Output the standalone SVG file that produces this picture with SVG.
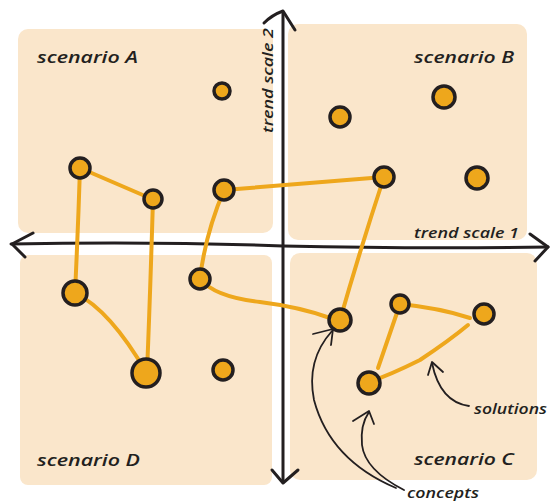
<svg xmlns="http://www.w3.org/2000/svg" width="553" height="501" viewBox="0 0 553 501">
<style>
.quad{fill:#FAE6CB;stroke:none}
.node{fill:#EEA71C;stroke:#231F20;stroke-width:3.5}
.link{fill:none;stroke:#EEA71C;stroke-width:4;stroke-linecap:round}
.axis{fill:none;stroke:#231F20;stroke-width:3;stroke-linecap:round;stroke-linejoin:round}
.ann{fill:none;stroke:#231F20;stroke-width:1.8;stroke-linecap:round;stroke-linejoin:round}
.lbl{font-family:"Open Sans","Liberation Sans",sans-serif;font-style:italic;font-weight:600;font-size:17px;fill:#231F20}
.small{font-size:15px}
</style>
<g id="quadrants">
<rect id="scenarioA-bg" class="quad" x="18" y="29" width="255" height="204" rx="10"/>
<rect id="scenarioB-bg" class="quad" x="288" y="24" width="239" height="216" rx="10"/>
<rect id="scenarioD-bg" class="quad" x="20" y="255" width="252" height="230" rx="8"/>
<rect id="scenarioC-bg" class="quad" x="290" y="253" width="247" height="227" rx="10"/>
</g>
<g id="axes">
<path class="axis" d="M283 12 L283 482"/>
<path class="axis" d="M264 23 Q272 15 283 11 L295 30"/>
<path class="axis" d="M272 470 L283 483 L298 470"/>
<path class="axis" d="M11 244 Q150 241 283 246 Q420 249 548 247"/>
<path class="axis" d="M33 233 L12 244 L25 257"/>
<path class="axis" d="M530 234 L548 247 L535 261"/>
</g>
<g id="connectors">
<path class="link" d="M80 168 L152 199"/>
<path class="link" d="M80 168 Q78 230 75 293"/>
<path class="link" d="M153 199 Q150 300 147 372"/>
<path class="link" d="M224 190 Q300 184 384 177"/>
<path class="link" d="M224 190 Q205 235 200 279"/>
<path class="link" d="M75 293 Q110 310 146 372"/>
<path class="link" d="M200 279 Q215 297 260 302 Q300 307 330 318"/>
<path class="link" d="M384 177 Q360 250 340 320"/>
<path class="link" d="M400 304 Q440 308 470 318"/>
<path class="link" d="M400 304 L378 368"/>
<path class="link" d="M369 382 Q390 375 420 360 Q450 340 468 325"/>
</g>
<g id="annotation-arrows">
<path class="ann" d="M396 488 Q330 460 314 400 Q306 360 332 331"/>
<path class="ann" d="M313 334 L333 329 L331 345"/>
<path class="ann" d="M404 490 Q365 470 362 445 Q360 425 369 412"/>
<path class="ann" d="M353 421 L369 411 L374 424"/>
<path class="ann" d="M469 406 Q440 402 432 363"/>
<path class="ann" d="M428 375 L432 362 L443 372"/>
</g>
<g id="nodes">
<g id="nA0"><circle class="node" cx="222" cy="91" r="8"/></g>
<g id="nA1"><circle class="node" cx="80" cy="168" r="10"/></g>
<g id="nA2"><circle class="node" cx="153" cy="199" r="9"/></g>
<g id="nA3"><circle class="node" cx="224" cy="190" r="10"/></g>
<g id="nB1"><circle class="node" cx="340" cy="117" r="10"/></g>
<g id="nB2"><circle class="node" cx="444" cy="97" r="11"/></g>
<g id="nB3"><circle class="node" cx="384" cy="177" r="10"/></g>
<g id="nB4"><circle class="node" cx="477" cy="178" r="11"/></g>
<g id="nD1"><circle class="node" cx="75" cy="293" r="12"/></g>
<g id="nD2"><circle class="node" cx="146" cy="373" r="14"/></g>
<g id="nD3"><circle class="node" cx="200" cy="279" r="10"/></g>
<g id="nD4"><circle class="node" cx="223" cy="370" r="10"/></g>
<g id="nC1"><circle class="node" cx="340" cy="320" r="11"/></g>
<g id="nC2"><circle class="node" cx="400" cy="304" r="9"/></g>
<g id="nC3"><circle class="node" cx="484" cy="314" r="10"/></g>
<g id="nC4"><circle class="node" cx="369" cy="383" r="11"/></g>
</g>
<g id="labels">
<text class="lbl" x="37" y="63" textLength="101" lengthAdjust="spacingAndGlyphs">scenario A</text>
<text class="lbl" x="414" y="63" textLength="100" lengthAdjust="spacingAndGlyphs">scenario B</text>
<text class="lbl" x="37" y="466" textLength="103" lengthAdjust="spacingAndGlyphs">scenario D</text>
<text class="lbl" x="414" y="465" textLength="100" lengthAdjust="spacingAndGlyphs">scenario C</text>
<text class="lbl small" x="414" y="238" textLength="105" lengthAdjust="spacingAndGlyphs">trend scale 1</text>
<text class="lbl small" transform="translate(273 133) rotate(-90)" x="0" y="0" textLength="105" lengthAdjust="spacingAndGlyphs">trend scale 2</text>
<text class="lbl small" x="474" y="414" textLength="73" lengthAdjust="spacingAndGlyphs">solutions</text>
<text class="lbl small" x="407" y="498" textLength="72" lengthAdjust="spacingAndGlyphs">concepts</text>
</g>
</svg>
